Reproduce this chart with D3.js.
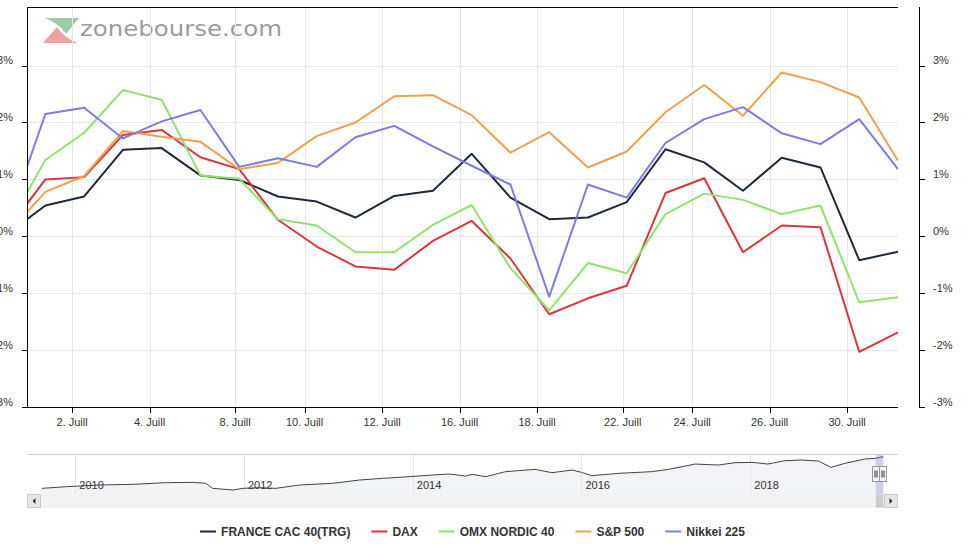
<!DOCTYPE html>
<html>
<head>
<meta charset="utf-8">
<script src="https://cdn.jsdelivr.net/npm/d3@7"></script>
<style>
  body { margin: 0; background: #fff; }
  svg { display: block; font-family: "Liberation Sans", Arial, sans-serif; }
</style>
</head>
<body>
<svg id="chart" width="972" height="547"></svg>
<script>
// Data (daily % change vs. start)
const dates = ["2019-06-28", "2019-07-01", "2019-07-02", "2019-07-03", "2019-07-04", "2019-07-05",
  "2019-07-08", "2019-07-09", "2019-07-10", "2019-07-11", "2019-07-12", "2019-07-15", "2019-07-16",
  "2019-07-17", "2019-07-18", "2019-07-19", "2019-07-22", "2019-07-23", "2019-07-24", "2019-07-25",
  "2019-07-26", "2019-07-29", "2019-07-30", "2019-07-31"];
const cac = [0.03, 0.54, 0.70, 1.52, 1.55, 1.07, 0.99, 0.70, 0.61, 0.33, 0.71, 0.80, 1.45, 0.68, 0.30, 0.33, 0.60, 1.53, 1.30, 0.80, 1.38, 1.21, -0.42, -0.27];
const dax = [0.09, 1.00, 1.04, 1.78, 1.87, 1.39, 1.18, 0.29, -0.18, -0.53, -0.59, -0.08, 0.27, -0.39, -1.37, -1.09, -0.87, 0.76, 1.02, -0.28, 0.19, 0.16, -2.03, -1.69];
const omx = [0.13, 1.34, 1.82, 2.57, 2.40, 1.07, 1.01, 0.30, 0.19, -0.28, -0.28, 0.20, 0.55, -0.56, -1.30, -0.47, -0.65, 0.39, 0.75, 0.64, 0.39, 0.54, -1.16, -1.07];
const sp500 = [0.04, 0.78, 1.06, 1.85, 1.75, 1.66, 1.18, 1.29, 1.76, 2.00, 2.46, 2.48, 2.13, 1.47, 1.83, 1.21, 1.49, 2.18, 2.66, 2.12, 2.88, 2.71, 2.44, 1.33];
const nikkei = [0.20, 2.15, 2.26, 1.72, 2.02, 2.22, 1.22, 1.37, 1.22, 1.74, 1.94, 1.58, 1.24, 0.91, -1.06, 0.91, 0.68, 1.64, 2.06, 2.27, 1.81, 1.62, 2.06, 1.18];
const seriesNames = ["FRANCE CAC 40(TRG)", "DAX", "OMX NORDIC 40", "S&P 500", "Nikkei 225"];
const seriesColors = ["#1d2a3a", "#de353c", "#8fe46c", "#f0a04e", "#7c7ce3"];
const tickDays = ["2019-07-02", "2019-07-04", "2019-07-08", "2019-07-10", "2019-07-12", "2019-07-16",
  "2019-07-18", "2019-07-22", "2019-07-24", "2019-07-26", "2019-07-30"];
const yTicks = [-3, -2, -1, 0, 1, 2, 3];

// navigator (CAC 40 long history)
const navDates = ["2009-08-10", "2009-11-24", "2010-04-16", "2010-09-09", "2011-01-30", "2011-05-27",
  "2011-07-20", "2011-08-18", "2011-11-14", "2011-12-28", "2012-03-10", "2012-05-19", "2012-08-29",
  "2013-01-19", "2013-05-16", "2013-08-22", "2013-12-16", "2014-03-29", "2014-06-06", "2014-08-18",
  "2014-09-16", "2014-11-13", "2015-02-06", "2015-06-14", "2015-08-26", "2015-11-22", "2016-01-01",
  "2016-02-14", "2016-06-10", "2016-10-30", "2017-01-12", "2017-05-08", "2017-08-15", "2017-10-27",
  "2018-01-08", "2018-03-18", "2018-05-30", "2018-08-11", "2018-10-23", "2018-12-16", "2019-02-14",
  "2019-05-12", "2019-06-25", "2019-07-31"];
const navValues = [3400, 3500, 3600, 3640, 3740, 3760, 3700, 3400, 3300, 3400, 3440, 3400, 3600,
  3700, 3900, 4000, 4100, 4200, 4260, 4140, 4240, 4100, 4400, 4540, 4340, 4500, 4360,
  4160, 4300, 4400, 4540, 4860, 4800, 4940, 4960, 4860, 5060, 5100, 5040, 4660, 4900,
  5160, 5200, 5300];
const navYears = [2010, 2012, 2014, 2016, 2018];

const svg = d3.select("#chart");
const parse = d3.utcParse("%Y-%m-%d");

// ordinal x axis: points are spaced evenly, dates in between are interpolated
const pointTimes = dates.map(d => parse(d).getTime() + 7.5 * 3600e3);
function ordinal(t) {
  let i = d3.bisectRight(pointTimes, t) - 1;
  i = Math.max(0, Math.min(i, pointTimes.length - 2));
  return i + (t - pointTimes[i]) / (pointTimes[i + 1] - pointTimes[i]);
}

const pLeft = 27, pRight = 898, pTop = 7, pBottom = 407;
const x = d3.scaleLinear().domain([0.525, dates.length - 1]).range([pLeft, pRight]);
const y = d3.scaleLinear().domain([-3, 3]).range([pBottom, 65.6]);

svg.append("defs").append("clipPath").attr("id", "plotclip")
  .append("rect").attr("x", pLeft).attr("y", pTop).attr("width", pRight - pLeft).attr("height", pBottom - pTop);

// watermark logo
const logo = svg.append("g").attr("opacity", 0.75);
logo.append("path").attr("d", "M45,18 L79,18 L66,34 Q60,24 45,18 Z").attr("fill", "#7dbd8a");
logo.append("path").attr("d", "M43,43 L77,43 Q63,37 57,27 Z").attr("fill", "#e3847f");
logo.append("text").attr("x", 80).attr("y", 36)
  .attr("font-family", "'DejaVu Sans', sans-serif").attr("font-size", 21)
  .attr("textLength", 202).attr("lengthAdjust", "spacingAndGlyphs")
  .attr("fill", "#7a7a7a").text("zonebourse.com");

// grid
const tickX = tickDays.map(d => x(ordinal(parse(d).getTime())));
svg.append("g").selectAll("line").data(yTicks).join("line")
  .attr("x1", pLeft).attr("x2", pRight)
  .attr("y1", d => Math.round(y(d)) + 0.5).attr("y2", d => Math.round(y(d)) + 0.5)
  .attr("stroke", "#e6e6e6");
svg.append("g").selectAll("line").data(tickX).join("line")
  .attr("x1", d => Math.round(d) + 0.5).attr("x2", d => Math.round(d) + 0.5)
  .attr("y1", pTop).attr("y2", pBottom)
  .attr("stroke", "#e6e6e6");

// series
const line = d3.line().x((d, i) => x(i)).y(d => y(d));
svg.append("g").attr("clip-path", "url(#plotclip)")
  .selectAll("path").data([cac, dax, omx, sp500, nikkei]).join("path")
  .attr("d", line)
  .attr("fill", "none")
  .attr("stroke", (d, i) => seriesColors[i])
  .attr("stroke-width", 2)
  .attr("stroke-linejoin", "round");

// axes frame
const axes = svg.append("g").attr("stroke", "#000").attr("stroke-width", 1);
axes.append("line").attr("x1", pLeft).attr("x2", pRight).attr("y1", pTop + 0.5).attr("y2", pTop + 0.5);
axes.append("line").attr("x1", pLeft).attr("x2", pRight).attr("y1", pBottom + 0.5).attr("y2", pBottom + 0.5);
axes.append("line").attr("x1", pLeft + 0.5).attr("x2", pLeft + 0.5).attr("y1", pTop).attr("y2", pBottom + 1);
axes.append("line").attr("x1", 919.5).attr("x2", 919.5).attr("y1", pTop).attr("y2", pBottom + 1);
axes.selectAll(".lt").data(yTicks).join("line").attr("class", "lt")
  .attr("x1", pLeft - 5).attr("x2", pLeft)
  .attr("y1", d => Math.round(y(d)) + 0.5).attr("y2", d => Math.round(y(d)) + 0.5);
axes.selectAll(".rt").data(yTicks).join("line").attr("class", "rt")
  .attr("x1", 919).attr("x2", 925)
  .attr("y1", d => Math.round(y(d)) + 0.5).attr("y2", d => Math.round(y(d)) + 0.5);
axes.selectAll(".xt").data(tickX).join("line").attr("class", "xt")
  .attr("x1", d => Math.round(d) + 0.5).attr("x2", d => Math.round(d) + 0.5)
  .attr("y1", pBottom).attr("y2", pBottom + 6);

// axis labels
const fmtDay = d3.utcFormat("%-d");
const labels = svg.append("g").attr("font-size", 11).attr("fill", "#333");
labels.selectAll(".yl").data(yTicks).join("text").attr("class", "yl")
  .attr("x", 13).attr("y", d => y(d) - 1.5).attr("text-anchor", "end")
  .text(d => d + "%");
labels.selectAll(".yr").data(yTicks).join("text").attr("class", "yr")
  .attr("x", 933).attr("y", d => y(d) - 1.5).attr("text-anchor", "start")
  .text(d => d + "%");
labels.selectAll(".xl").data(tickDays).join("text").attr("class", "xl")
  .attr("x", (d, i) => tickX[i]).attr("y", 426).attr("text-anchor", "middle")
  .text(d => fmtDay(parse(d)) + ". Juill");

// navigator
const navTop = 454, navBottom = 494;
const navX = d3.scaleUtc().domain([Date.UTC(2010, 0, 1), Date.UTC(2018, 0, 1)]).range([75.3, 750.3]);
const navY = d3.scaleLinear().domain(d3.extent(navValues)).range([490, 456.7]);
const navData = navDates.map((d, i) => [parse(d), navValues[i]]);
const nav = svg.append("g");
nav.append("path")
  .datum(navData)
  .attr("d", d3.area().x(d => navX(d[0])).y0(navBottom).y1(d => navY(d[1])))
  .attr("fill", "#f2f3f6");
nav.selectAll(".ng").data(navYears).join("line").attr("class", "ng")
  .attr("x1", d => Math.round(navX(Date.UTC(d, 0, 1))) + 0.5)
  .attr("x2", d => Math.round(navX(Date.UTC(d, 0, 1))) + 0.5)
  .attr("y1", navTop).attr("y2", navBottom)
  .attr("stroke", "#e6e6e6");
nav.append("path")
  .datum(navData)
  .attr("d", d3.line().x(d => navX(d[0])).y(d => navY(d[1])))
  .attr("fill", "none").attr("stroke", "#444").attr("stroke-width", 1);
nav.selectAll(".nl").data(navYears).join("text").attr("class", "nl")
  .attr("x", d => navX(Date.UTC(d, 0, 1)) + 4).attr("y", 489)
  .attr("font-size", 11).attr("fill", "#333")
  .text(d => d);

// selected range mask + handles
const m0 = navX(parse(dates[0])), m1 = navX(parse(dates[dates.length - 1]));
nav.append("rect").attr("x", m0).attr("y", navTop).attr("width", m1 - m0).attr("height", navBottom - navTop)
  .attr("fill", "rgba(102,133,194,0.3)");
nav.append("line").attr("x1", pLeft).attr("x2", pRight).attr("y1", navTop + 0.5).attr("y2", navTop + 0.5)
  .attr("stroke", "#cccccc");
[m0, m1].forEach(hx => {
  const h = nav.append("g").attr("transform", `translate(${Math.round(hx) - 3.5},466.5)`);
  h.append("rect").attr("width", 7).attr("height", 15).attr("fill", "#f2f2f2").attr("stroke", "#999");
  h.append("path").attr("d", "M2.5,4 V11 M4.5,4 V11").attr("stroke", "#333");
});

// scrollbar
const sb = svg.append("g");
sb.append("rect").attr("x", pLeft).attr("y", navBottom).attr("width", pRight - pLeft).attr("height", 14)
  .attr("fill", "#f2f2f2");
sb.append("rect").attr("x", m0).attr("y", navBottom + 0.5).attr("width", m1 - m0).attr("height", 13)
  .attr("fill", "#cccccc");
[pLeft, pRight - 14].forEach((bx, i) => {
  sb.append("rect").attr("x", bx + 0.5).attr("y", navBottom + 0.5).attr("width", 13).attr("height", 13)
    .attr("fill", "#e6e6e6").attr("stroke", "#cccccc");
  const cx = bx + 7, cy = navBottom + 7;
  sb.append("path")
    .attr("d", i === 0 ? `M${cx + 1.5},${cy - 3} L${cx - 1.5},${cy} L${cx + 1.5},${cy + 3} Z`
                       : `M${cx - 1.5},${cy - 3} L${cx + 1.5},${cy} L${cx - 1.5},${cy + 3} Z`)
    .attr("fill", "#333");
});

// legend
const legend = svg.append("g").attr("font-size", 12).attr("font-weight", "bold").attr("fill", "#333");
const items = legend.selectAll("g").data(seriesNames).join("g");
items.append("line").attr("x1", 0).attr("x2", 16).attr("y1", 0).attr("y2", 0)
  .attr("stroke", (d, i) => seriesColors[i]).attr("stroke-width", 2);
items.append("text").attr("x", 21).attr("y", 4.5).text(d => d);
let widths = [];
items.each(function () { widths.push(21 + d3.select(this).select("text").node().getComputedTextLength()); });
const gap = 21;
const total = d3.sum(widths) + gap * (widths.length - 1);
let cursor = 472.5 - total / 2;
items.attr("transform", (d, i) => {
  const t = `translate(${cursor},531.5)`;
  cursor += widths[i] + gap;
  return t;
});
</script>
</body>
</html>
